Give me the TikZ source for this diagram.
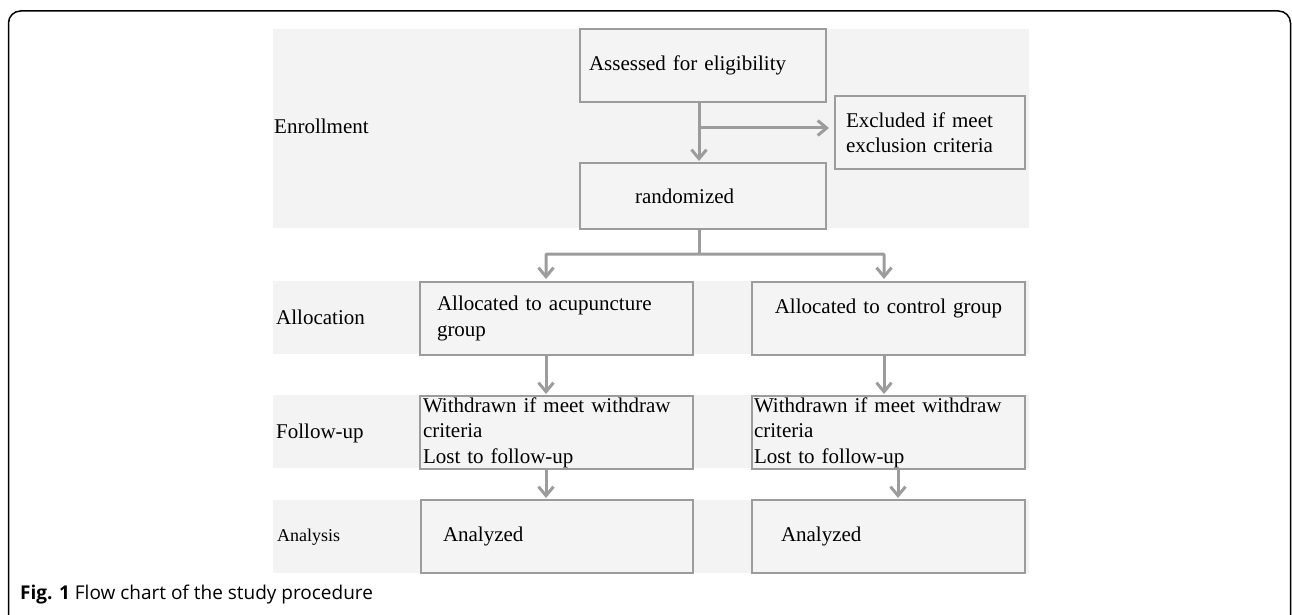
\documentclass[tikz,border=0pt]{standalone}
\usepackage{fontspec}
\setmainfont{Liberation Serif}
\newfontfamily\capfont{Open Sans}
\usetikzlibrary{arrows.meta}
\definecolor{band}{HTML}{F3F3F3}
\definecolor{boxfill}{HTML}{F4F4F4}
\definecolor{edge}{HTML}{9C9C9C}
\tikzset{
  stepbox/.style={draw=edge, line width=2pt, fill=boxfill, anchor=north west,
    inner ysep=0pt, align=left, font=\fontsize{21}{25.5}\selectfont},
  lbl/.style={anchor=base west, inner sep=0pt, font=\fontsize{21}{25.5}\selectfont},
  conn/.style={draw=edge, line width=3pt, -{Straight Barb[length=9pt,width=15pt,line width=3pt]}},
  plain/.style={draw=edge, line width=3pt},
  bandbg/.style={fill=band, draw=none}
}
\begin{document}
\begin{tikzpicture}[x=1pt,y=-1pt]
\useasboundingbox (0,0) rectangle (1292,615);
% outer frame
\draw[line width=1.5pt, rounded corners=12pt] (8.5,640) -- (8.5,11) -- (1290.5,11) -- (1290.5,640);
% bands
\fill[band] (273,29) rectangle (1029,228);
\fill[band] (273,281) rectangle (1029,354);
\fill[band] (273,395) rectangle (1029,468);
\fill[band] (273,500) rectangle (1029,573);
% stage labels
\node[lbl] (lenr) at (274,133) {Enrollment};
\node[lbl] (lall) at (276,324) {Allocation};
\node[lbl] (lfol) at (276,438) {Follow-up};
\node[lbl, font=\fontsize{18}{22}\selectfont] (lana) at (277,541.5) {Analysis};
% boxes
\node[stepbox, inner xsep=9pt, text width=228pt, minimum height=73pt] (ass) at (579,28) {Assessed for eligibility};
\node[stepbox, inner xsep=11pt, text width=168pt, minimum height=73pt] (exc) at (834,95) {Excluded if meet\\exclusion criteria};
\node[stepbox, inner xsep=55pt, text width=136pt, minimum height=66pt] (rnd) at (579,162) {randomized};
\node[stepbox, inner xsep=17pt, text width=239pt, minimum height=73pt] (a1) at (419,281) {Allocated to acupuncture\\group};
\node[stepbox, inner xsep=10pt, text width=253pt, minimum height=73pt, align=center] (a2) at (751,281) {Allocated to control group\\\mbox{}};
\node[stepbox, inner xsep=3pt, text width=267pt, minimum height=73pt] (f1) at (419,395) {Withdrawn if meet withdraw\\criteria\\Lost to follow-up};
\node[stepbox, inner xsep=2pt, text width=269pt, minimum height=73pt] (f2) at (751,395) {Withdrawn if meet withdraw\\criteria\\Lost to follow-up};
\node[stepbox, inner xsep=22pt, text width=228pt, minimum height=73pt] (n1) at (420,499) {Analyzed};
\node[stepbox, inner xsep=29pt, text width=215pt, minimum height=73pt] (n2) at (751,499) {Analyzed};
% helper coordinates
\coordinate (cx) at (699,0);
\coordinate (br) at (699,128);
\coordinate (sp) at (699,254);
\coordinate (xl) at (546,0);
\coordinate (xr) at (884,0);
\coordinate (xr2) at (898,0);
% connectors
\draw[conn, shorten >=1pt] (ass.south -| cx) -- (rnd.north -| cx);
\draw[conn, shorten >=5pt] (br) -- (br -| exc.west);
\draw[plain] (rnd.south -| cx) -- (sp);
\draw[conn, shorten >=2pt, rounded corners=1pt] (sp) -- (sp -| xl) -- (a1.north -| xl);
\draw[conn, shorten >=2pt, rounded corners=1pt] (sp) -- (sp -| xr) -- (a2.north -| xr);
\draw[conn, shorten >=1pt] (a1.south -| xl) -- (f1.north -| xl);
\draw[conn, shorten >=1pt] (a2.south -| xr) -- (f2.north -| xr);
\draw[conn, shorten >=1pt] (f1.south -| xl) -- (n1.north -| xl);
\draw[conn, shorten >=1pt] (f2.south -| xr2) -- (n2.north -| xr2);
% caption
\node[anchor=base west, inner sep=0pt, font=\capfont\fontsize{19}{22}\selectfont] (cap) at (20,599) {\textbf{Fig. 1} Flow chart of the study procedure};
\end{tikzpicture}
\end{document}
